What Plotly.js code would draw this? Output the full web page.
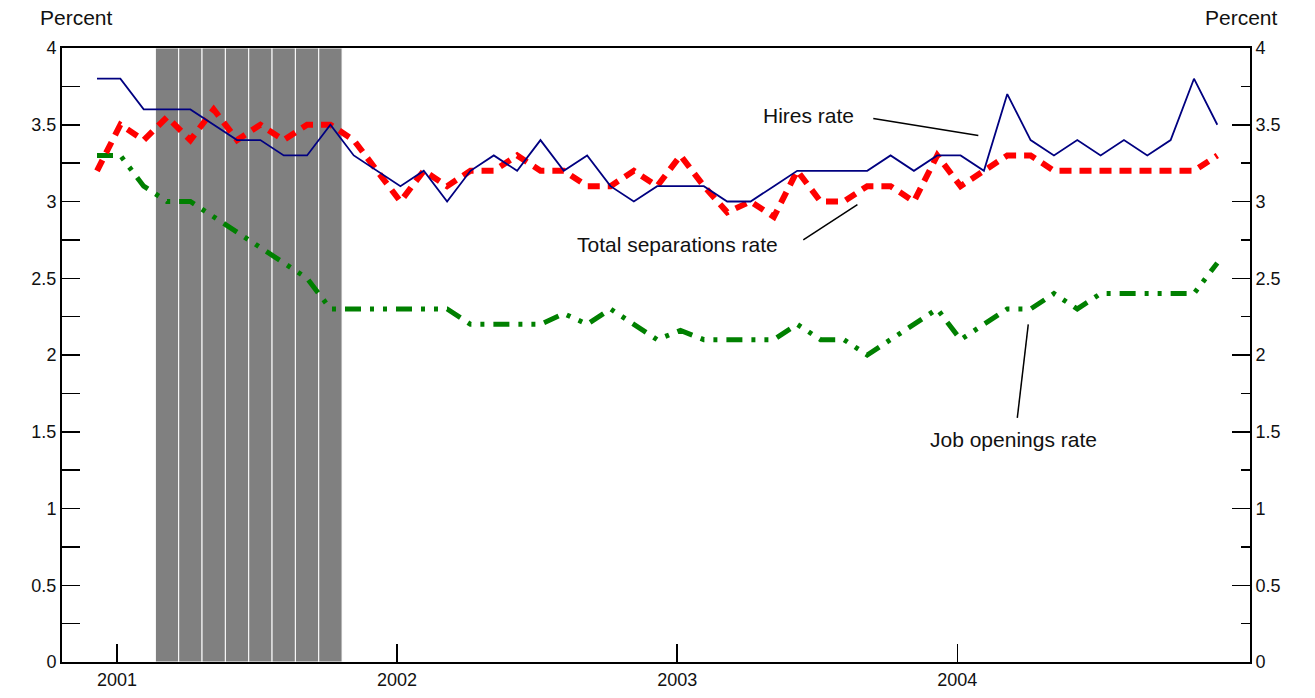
<!DOCTYPE html>
<html>
<head>
<meta charset="utf-8">
<script src="https://cdn.plot.ly/plotly-3.0.1.min.js"></script>
<style>
  body { margin: 0; background: #fff; }
  #plot { width: 1315px; height: 698px; }
</style>
</head>
<body>
<div id="plot"></div>
<script>
// months from Dec 2000 (index 0) to Dec 2004 (index 48)
var hires = [3.8, 3.8, 3.6, 3.6, 3.6, 3.5, 3.4, 3.4, 3.3, 3.3, 3.5, 3.3, 3.2,
  3.1, 3.2, 3.0, 3.2, 3.3, 3.2, 3.4, 3.2, 3.3, 3.1, 3.0, 3.1,
  3.1, 3.1, 3.0, 3.0, 3.1, 3.2, 3.2, 3.2, 3.2, 3.3, 3.2, 3.3,
  3.3, 3.2, 3.7, 3.4, 3.3, 3.4, 3.3, 3.4, 3.3, 3.4, 3.8, 3.5];
var separations = [3.2, 3.5, 3.4, 3.55, 3.4, 3.6, 3.4, 3.5, 3.4, 3.5, 3.5, 3.4, 3.2,
  3.0, 3.2, 3.1, 3.2, 3.2, 3.3, 3.2, 3.2, 3.1, 3.1, 3.2, 3.1,
  3.3, 3.1, 2.93, 3.0, 2.9, 3.2, 3.0, 3.0, 3.1, 3.1, 3.0, 3.3,
  3.1, 3.2, 3.3, 3.3, 3.2, 3.2, 3.2, 3.2, 3.2, 3.2, 3.2, 3.3];
var openings = [3.3, 3.3, 3.1, 3.0, 3.0, 2.9, 2.8, 2.7, 2.6, 2.5, 2.3, 2.3, 2.3,
  2.3, 2.3, 2.3, 2.2, 2.2, 2.2, 2.2, 2.27, 2.2, 2.3, 2.2, 2.1,
  2.16, 2.1, 2.1, 2.1, 2.1, 2.2, 2.1, 2.1, 2.0, 2.1, 2.2, 2.3,
  2.1, 2.2, 2.3, 2.3, 2.4, 2.3, 2.4, 2.4, 2.4, 2.4, 2.4, 2.6];
var recessionMonths = [3, 4, 5, 6, 7, 8, 9, 10];   // Mar-Oct 2001
var yearTicks = [0.857, 12.857, 24.857, 36.857];
var yearLabels = ['2001', '2002', '2003', '2004'];

var months = hires.map(function(v, i) { return i; });
var font = {family: 'Liberation Sans, Arial, sans-serif', size: 18, color: '#111'};
var bigFont = {family: 'Liberation Sans, Arial, sans-serif', size: 21, color: '#111'};

var data = [
  {type: 'bar', x: recessionMonths, y: recessionMonths.map(function() { return 4; }),
   width: 1, marker: {color: '#808080', line: {color: '#fff', width: 1}},
   hoverinfo: 'skip'},
  {type: 'scatter', mode: 'lines', x: months, y: openings,
   line: {color: '#008000', width: 5, dash: '16px,9px,4px,9px,4px,9px'}},
  {type: 'scatter', mode: 'lines', x: months, y: separations,
   line: {color: '#ff0000', width: 6, dash: '12px,8px'}},
  {type: 'scatter', mode: 'lines', x: months, y: hires,
   line: {color: '#000080', width: 1.8}},
  {type: 'scatter', mode: 'lines', x: [0], y: [0], yaxis: 'y2', hoverinfo: 'skip',
   line: {color: 'rgba(0,0,0,0)'}}
];

var axisY = {
  range: [0, 4], dtick: 0.5, tick0: 0, ticks: 'inside', ticklen: 18, tickwidth: 1.5,
  tickcolor: '#000', showgrid: false, zeroline: false, showline: true,
  linecolor: '#000', linewidth: 2, tickfont: font,
  minor: {dtick: 0.25, ticks: 'inside', ticklen: 18, tickwidth: 1.5, tickcolor: '#000', showgrid: false}
};

var layout = {
  width: 1315, height: 698,
  margin: {l: 62, r: 65, t: 48, b: 36},
  paper_bgcolor: '#fff', plot_bgcolor: '#fff',
  showlegend: false, bargap: 0,
  font: font,
  xaxis: {
    range: [-1.5, 49.4], tickvals: yearTicks, ticktext: yearLabels,
    ticks: 'inside', ticklen: 18, tickwidth: 1.5, tickcolor: '#000',
    showgrid: false, zeroline: false, showline: true, mirror: true,
    linecolor: '#000', linewidth: 2, tickfont: font
  },
  yaxis: axisY,
  yaxis2: Object.assign({}, axisY, {overlaying: 'y', side: 'right',
    minor: {dtick: 0.25, ticks: 'inside', ticklen: 9, tickwidth: 1.5, tickcolor: '#000', showgrid: false}}),
  shapes: [
    {type: 'line', xref: 'x', yref: 'y', x0: 33.26, y0: 3.54, x1: 37.76, y1: 3.43, line: {color: '#000', width: 1.5}},
    {type: 'line', xref: 'x', yref: 'y', x0: 30.26, y0: 2.75, x1: 32.58, y1: 2.98, line: {color: '#000', width: 1.5}},
    {type: 'line', xref: 'x', yref: 'y', x0: 39.43, y0: 1.59, x1: 39.9, y1: 2.2, line: {color: '#000', width: 1.5}}
  ],
  annotations: [
    {xref: 'x', yref: 'y', x: 30.5, y: 3.56, text: 'Hires rate', showarrow: false, font: bigFont},
    {xref: 'x', yref: 'y', x: 24.86, y: 2.72, text: 'Total separations rate', showarrow: false, font: bigFont},
    {xref: 'x', yref: 'y', x: 39.26, y: 1.45, text: 'Job openings rate', showarrow: false, font: bigFont},
    {xref: 'paper', yref: 'paper', x: 0, y: 1, xshift: -24, yshift: 44, xanchor: 'left', yanchor: 'top',
     text: 'Percent', showarrow: false, font: bigFont},
    {xref: 'paper', yref: 'paper', x: 1, y: 1, xshift: 30, yshift: 44, xanchor: 'right', yanchor: 'top',
     text: 'Percent', showarrow: false, font: bigFont}
  ]
};

Plotly.newPlot('plot', data, layout, {staticPlot: true});
</script>
</body>
</html>
